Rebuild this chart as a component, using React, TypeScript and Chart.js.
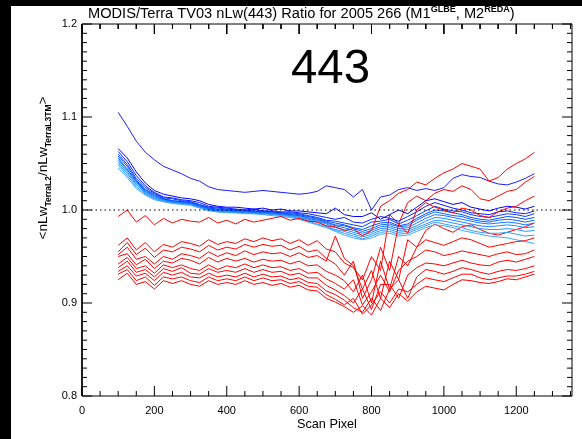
import React, { useEffect, useRef } from "react";
import { Chart, registerables } from "chart.js";

Chart.register(...registerables);

const SCAN_PIXELS = [100,125,150,175,200,225,250,275,300,325,350,375,400,425,450,475,500,525,550,575,600,625,650,675,700,725,750,775,800,825,850,875,900,925,950,975,1000,1025,1050,1075,1100,1125,1150,1175,1200,1225,1250];

const X_TICKS = [0, 200, 400, 600, 800, 1000, 1200];
const Y_TICKS = [0.8, 0.9, 1.0, 1.1, 1.2];
const X_RANGE = [0, 1354];
const Y_RANGE = [0.8, 1.2];
const REF_LEVEL = 1.0;

const BLUE_TOP = [1.105,1.090,1.074,1.062,1.054,1.047,1.043,1.039,1.034,1.031, 1.025,1.022,1.021,1.020,1.019,1.020,1.021,1.020,1.019,1.018, 1.017,1.018,1.020,1.026,1.024,1.022,1.014,1.022,1.000,1.014, 1.016,1.022,1.024,1.021,1.023,1.021,1.024,1.034,1.038,1.036, 1.035,1.031,1.028,1.027,1.030,1.034,1.039];
const BLUE_1 = [1.066,1.056,1.041,1.029,1.021,1.017,1.015,1.013,1.012,1.010, 1.006,1.004,1.003,1.003,1.002,1.001,1.002,1.000,1.001,0.999, 0.999,0.998,0.997,0.996,1.002,0.995,0.993,0.993,0.997,0.990, 0.995,1.000,0.996,1.003,1.010,1.012,1.009,1.006,1.008,1.003, 1.001,0.999,1.002,1.004,1.003,1.001,1.004];
const BLUE_2 = [1.063,1.052,1.037,1.026,1.019,1.014,1.013,1.011,1.010,1.008, 1.004,1.003,1.002,1.001,1.000,1.001,0.999,0.999,0.998,0.998, 0.997,0.996,0.994,0.992,0.990,0.992,0.987,0.986,0.990,0.993, 0.991,0.988,0.993,0.998,1.004,1.008,1.005,1.002,1.000,0.997, 0.996,0.995,0.998,0.999,0.997,0.996,0.999];
const BLUE_3 = [1.060,1.049,1.034,1.024,1.018,1.013,1.012,1.010,1.009,1.006, 1.003,1.002,1.001,1.000,1.000,0.999,0.999,0.998,0.997,0.997, 0.996,0.994,0.992,0.989,0.988,0.986,0.984,0.982,0.987,0.988, 0.990,0.985,0.989,0.994,0.999,1.004,1.001,0.999,0.998,0.995, 0.993,0.992,0.994,0.996,0.995,0.993,0.996];
const BLUE_4 = [1.058,1.047,1.032,1.022,1.017,1.012,1.010,1.009,1.008,1.005, 1.002,1.001,1.000,1.000,0.999,0.999,0.998,0.998,0.997,0.996, 0.995,0.993,0.991,0.988,0.986,0.984,0.981,0.979,0.983,0.986, 0.987,0.983,0.985,0.991,0.996,1.000,0.999,0.997,0.995,0.992, 0.990,0.989,0.991,0.993,0.992,0.990,0.992];
const BLUE_5 = [1.056,1.044,1.031,1.021,1.016,1.012,1.010,1.009,1.008,1.005, 1.002,1.000,1.000,0.999,0.999,0.998,0.998,0.997,0.996,0.995, 0.994,0.992,0.990,0.987,0.984,0.983,0.980,0.977,0.980,0.984, 0.985,0.982,0.983,0.989,0.994,0.998,0.996,0.994,0.993,0.990, 0.988,0.987,0.989,0.990,0.989,0.987,0.989];
const BLUE_6 = [1.054,1.043,1.030,1.020,1.015,1.011,1.009,1.008,1.007,1.004, 1.001,1.000,0.999,0.999,0.998,0.998,0.997,0.997,0.996,0.995, 0.994,0.991,0.989,0.986,0.983,0.981,0.978,0.975,0.978,0.982, 0.983,0.980,0.981,0.986,0.991,0.995,0.994,0.992,0.990,0.988, 0.986,0.985,0.986,0.987,0.986,0.984,0.986];
const BLUE_7 = [1.052,1.041,1.028,1.019,1.014,1.011,1.009,1.008,1.007,1.004, 1.001,0.999,0.999,0.998,0.998,0.997,0.997,0.996,0.995,0.994, 0.993,0.990,0.988,0.985,0.981,0.979,0.976,0.973,0.976,0.980, 0.981,0.978,0.979,0.983,0.988,0.992,0.991,0.989,0.987,0.985, 0.983,0.982,0.983,0.984,0.983,0.981,0.982];
const BLUE_8 = [1.050,1.039,1.027,1.018,1.013,1.010,1.008,1.007,1.006,1.003, 1.000,0.999,0.998,0.998,0.997,0.997,0.996,0.996,0.995,0.994, 0.992,0.989,0.987,0.983,0.979,0.977,0.974,0.971,0.974,0.978, 0.979,0.976,0.977,0.981,0.985,0.989,0.988,0.986,0.984,0.982, 0.980,0.979,0.979,0.980,0.979,0.977,0.978];
const BLUE_9 = [1.048,1.037,1.025,1.017,1.012,1.009,1.008,1.007,1.006,1.003, 1.000,0.998,0.998,0.997,0.997,0.996,0.996,0.995,0.994,0.993, 0.991,0.988,0.985,0.982,0.978,0.975,0.972,0.969,0.972,0.976, 0.977,0.974,0.975,0.979,0.983,0.987,0.985,0.983,0.981,0.978, 0.976,0.975,0.975,0.976,0.974,0.972,0.973];
const BLUE_10 = [1.045,1.035,1.023,1.016,1.011,1.009,1.007,1.006,1.005,1.002, 0.999,0.998,0.997,0.997,0.996,0.996,0.995,0.994,0.993,0.992, 0.990,0.987,0.984,0.981,0.977,0.973,0.970,0.968,0.970,0.974, 0.975,0.972,0.973,0.977,0.981,0.984,0.983,0.981,0.978,0.976, 0.974,0.972,0.971,0.970,0.968,0.966,0.964];

const RED_0 = [0.993,1.000,0.987,0.994,0.984,0.991,0.986,0.990,0.988,0.987, 0.992,0.986,0.989,0.985,0.990,0.987,0.989,0.991,0.993,0.989, 0.991,0.988,0.987,0.983,0.982,0.978,0.980,0.972,0.978,1.004, 1.010,1.018,1.022,1.030,1.027,1.034,1.040,1.044,1.050,1.047, 1.044,1.031,1.035,1.044,1.050,1.055,1.062];
const RED_1 = [0.962,0.970,0.957,0.965,0.955,0.963,0.960,0.966,0.964,0.961, 0.968,0.963,0.966,0.964,0.969,0.966,0.970,0.967,0.969,0.964, 0.968,0.962,0.967,0.958,0.955,0.943,0.938,0.925,0.950,0.935, 0.995,0.985,1.008,1.015,1.010,1.018,1.022,1.020,1.026,1.022, 1.012,1.010,1.015,1.020,1.022,1.030,1.036];
const RED_2 = [0.955,0.965,0.952,0.959,0.949,0.957,0.955,0.960,0.958,0.955, 0.962,0.957,0.960,0.958,0.963,0.960,0.963,0.961,0.962,0.957, 0.961,0.955,0.957,0.948,0.942,0.930,0.945,0.905,0.925,0.960, 0.935,0.985,0.975,1.000,1.008,1.003,1.000,0.997,1.002,1.000, 0.994,0.992,0.998,1.002,1.004,1.010,1.015];
const RED_3 = [0.952,0.960,0.947,0.950,0.942,0.950,0.947,0.953,0.951,0.948, 0.955,0.950,0.954,0.951,0.956,0.952,0.955,0.953,0.954,0.950, 0.954,0.949,0.951,0.945,0.972,0.948,0.940,0.915,0.935,0.905, 0.945,0.925,0.968,0.960,0.978,0.985,0.980,0.976,0.982,0.984, 0.979,0.975,0.973,0.976,0.979,0.982,0.986];
const RED_4 = [0.950,0.953,0.941,0.947,0.937,0.945,0.943,0.948,0.946,0.942, 0.949,0.944,0.948,0.945,0.948,0.944,0.947,0.945,0.946,0.942, 0.945,0.940,0.941,0.934,0.930,0.924,0.912,0.930,0.900,0.945, 0.915,0.950,0.940,0.960,0.968,0.965,0.962,0.966,0.970,0.968, 0.964,0.960,0.962,0.964,0.966,0.967,0.970];
const RED_5 = [0.942,0.949,0.937,0.940,0.932,0.941,0.938,0.941,0.937,0.935, 0.941,0.936,0.940,0.938,0.942,0.938,0.941,0.938,0.939,0.935, 0.937,0.932,0.933,0.926,0.921,0.915,0.925,0.898,0.912,0.930, 0.912,0.935,0.945,0.950,0.957,0.955,0.951,0.953,0.956,0.954, 0.952,0.950,0.953,0.955,0.952,0.953,0.957];
const RED_6 = [0.938,0.945,0.933,0.936,0.928,0.937,0.934,0.938,0.932,0.931, 0.937,0.933,0.935,0.933,0.937,0.933,0.936,0.933,0.934,0.930, 0.932,0.927,0.927,0.919,0.914,0.908,0.900,0.915,0.893,0.920, 0.920,0.905,0.930,0.938,0.943,0.942,0.940,0.943,0.946,0.943, 0.941,0.940,0.944,0.946,0.944,0.947,0.950];
const RED_7 = [0.934,0.940,0.929,0.932,0.924,0.933,0.930,0.933,0.928,0.927, 0.932,0.928,0.930,0.928,0.932,0.928,0.931,0.928,0.929,0.925, 0.927,0.922,0.921,0.913,0.909,0.903,0.895,0.890,0.905,0.892, 0.915,0.925,0.905,0.928,0.936,0.934,0.931,0.934,0.938,0.936, 0.933,0.931,0.934,0.936,0.935,0.937,0.940];
const RED_8 = [0.931,0.936,0.924,0.928,0.919,0.928,0.926,0.928,0.924,0.922, 0.928,0.924,0.926,0.924,0.928,0.924,0.927,0.924,0.925,0.921, 0.923,0.918,0.917,0.909,0.904,0.898,0.905,0.888,0.898,0.912, 0.900,0.915,0.912,0.920,0.927,0.925,0.923,0.927,0.931,0.931, 0.927,0.925,0.927,0.929,0.929,0.931,0.934];
const RED_9 = [0.925,0.932,0.920,0.923,0.915,0.924,0.921,0.924,0.920,0.918, 0.924,0.920,0.922,0.920,0.924,0.920,0.922,0.919,0.921,0.917, 0.919,0.914,0.913,0.905,0.901,0.896,0.890,0.897,0.887,0.905, 0.895,0.910,0.902,0.912,0.918,0.916,0.914,0.920,0.925,0.924, 0.922,0.921,0.923,0.926,0.925,0.928,0.931];

const BLUE_SERIES = [BLUE_TOP, BLUE_1, BLUE_2, BLUE_3, BLUE_4, BLUE_5, BLUE_6, BLUE_7, BLUE_8, BLUE_9, BLUE_10];
const BLUE_COLORS = ["#1c1cff", "#0000ff", "#0a1eff", "#0a3cff", "#0050ff", "#0a64ff", "#1478ff", "#1e88ff", "#2894ff", "#349eff", "#40a8ff"];
const RED_SERIES = [RED_0, RED_1, RED_2, RED_3, RED_4, RED_5, RED_6, RED_7, RED_8, RED_9];
const RED_COLOR = "#ff0000";

const FONT = "'Liberation Sans', Arial, sans-serif";

// plot box size in pixels (from the layout below), used to turn tick lengths into data units
const PLOT_PX = { w: 490, h: 372 };
const TICK_MAJOR_PX = 10;
const TICK_MINOR_PX = 5;

type Part = { t: string; k?: "sup" | "sub" };

const TITLE_PARTS: Part[] = [
  { t: "MODIS/Terra TV03 nLw(443) Ratio for 2005 266 (M1" },
  { t: "GLBE", k: "sup" },
  { t: ", M2" },
  { t: "REDA", k: "sup" },
  { t: ")" },
];
const YLABEL_PARTS: Part[] = [
  { t: "<nLw" },
  { t: "TerraL2", k: "sub" },
  { t: "/nLw" },
  { t: "TerraL3TM", k: "sub" },
  { t: ">" },
];
const XLABEL_PARTS: Part[] = [{ t: "Scan Pixel" }];
const BIG_LABEL: Part[] = [{ t: "443" }];

function partFont(size: number, k?: string) {
  const s = k ? size * 0.62 : size;
  return `${k ? "bold " : ""}${s}px ${FONT}`;
}

function richWidth(ctx: CanvasRenderingContext2D, parts: Part[], size: number) {
  let w = 0;
  for (const p of parts) {
    ctx.font = partFont(size, p.k);
    w += ctx.measureText(p.t).width;
  }
  return w;
}

function drawRichFit(ctx: CanvasRenderingContext2D, parts: Part[], cx: number, baseline: number, targetW: number) {
  const base = 20;
  const size = (base * targetW) / richWidth(ctx, parts, base);
  let x = cx - targetW / 2;
  ctx.textAlign = "left";
  ctx.textBaseline = "alphabetic";
  for (const p of parts) {
    ctx.font = partFont(size, p.k);
    let y = baseline;
    if (p.k === "sup") y -= size * 0.42;
    if (p.k === "sub") y += size * 0.28;
    ctx.fillText(p.t, x, y);
    x += ctx.measureText(p.t).width;
  }
}

function drawTexts(ctx: CanvasRenderingContext2D) {
  ctx.clearRect(0, 0, ctx.canvas.width, ctx.canvas.height);
  ctx.save();
  ctx.fillStyle = "#000";
  drawRichFit(ctx, TITLE_PARTS, 290.5, 12, 427);
  drawRichFit(ctx, XLABEL_PARTS, 316, 422, 60);
  drawRichFit(ctx, BIG_LABEL, 319.5, 77, 79);
  ctx.save();
  ctx.translate(36, 162);
  ctx.rotate(-Math.PI / 2);
  drawRichFit(ctx, YLABEL_PARTS, 0, 0, 143);
  ctx.restore();
  ctx.restore();
}

function frameSegments() {
  return [
    { x: X_RANGE[0], y: Y_RANGE[0] },
    { x: X_RANGE[1], y: Y_RANGE[0] },
    { x: X_RANGE[1], y: Y_RANGE[1] },
    { x: X_RANGE[0], y: Y_RANGE[1] },
    { x: X_RANGE[0], y: Y_RANGE[0] },
  ];
}

function tickSegments() {
  const pts: any[] = [];
  const ux = (X_RANGE[1] - X_RANGE[0]) / PLOT_PX.w;
  const uy = (Y_RANGE[1] - Y_RANGE[0]) / PLOT_PX.h;
  for (let i = 0; i <= 40; i++) {
    const v = Y_RANGE[0] + i * 0.01;
    const len = i % 10 === 0 ? TICK_MAJOR_PX : TICK_MINOR_PX;
    pts.push({ x: X_RANGE[0], y: v }, { x: X_RANGE[0] + len * ux, y: v }, { x: X_RANGE[0] + len * ux, y: null });
    pts.push({ x: X_RANGE[1], y: v }, { x: X_RANGE[1] - len * ux, y: v }, { x: X_RANGE[1] - len * ux, y: null });
  }
  for (let v = 0; v <= 1350; v += 50) {
    const len = v % 200 === 0 ? TICK_MAJOR_PX : TICK_MINOR_PX;
    pts.push({ x: v, y: Y_RANGE[0] }, { x: v, y: Y_RANGE[0] + len * uy }, { x: v, y: null });
    pts.push({ x: v, y: Y_RANGE[1] }, { x: v, y: Y_RANGE[1] - len * uy }, { x: v, y: null });
  }
  return pts;
}

export default function App() {
  const ref = useRef<HTMLCanvasElement>(null);
  const overlayRef = useRef<HTMLCanvasElement>(null);
  useEffect(() => {
    if (!ref.current) return;
    const toPts = (arr: number[]) => arr.map((v, i) => ({ x: SCAN_PIXELS[i], y: v }));
    const datasets: any[] = [];
    datasets.push({
      data: frameSegments(),
      borderColor: "#000",
      borderWidth: 1,
      pointRadius: 0,
      tension: 0,
      clip: false,
      spanGaps: false,
      order: -2,
    });
    datasets.push({
      data: tickSegments(),
      borderColor: "#000",
      borderWidth: 1,
      pointRadius: 0,
      tension: 0,
      clip: false,
      spanGaps: false,
      order: -1,
    });
    datasets.push({
      data: [
        { x: X_RANGE[0], y: REF_LEVEL },
        { x: X_RANGE[1], y: REF_LEVEL },
      ],
      borderColor: "#000",
      borderWidth: 1.2,
      borderDash: [1.5, 3],
      pointRadius: 0,
      order: 0,
    });
    RED_SERIES.forEach((s, i) =>
      datasets.push({ data: toPts(s), borderColor: RED_COLOR, borderWidth: 1, pointRadius: 0, tension: 0, order: 1 + (i % 2) * 2 })
    );
    BLUE_SERIES.forEach((s, i) =>
      datasets.push({ data: toPts(s), borderColor: BLUE_COLORS[i], borderWidth: 1, pointRadius: 0, tension: 0, order: 2 })
    );
    const chart = new Chart(ref.current, {
      type: "line",
      data: { datasets },
      options: {
        animation: false,
        responsive: false,
        devicePixelRatio: 1,
        layout: { padding: { left: 0, right: 10, top: 18, bottom: 0 } },
        plugins: { legend: { display: false }, tooltip: { enabled: false }, title: { display: false } },
        scales: {
          x: {
            type: "linear",
            min: X_RANGE[0],
            max: X_RANGE[1],
            grid: { display: false, drawTicks: false },
            border: { display: false },
            afterBuildTicks: (s: any) => {
              s.ticks = X_TICKS.map((v) => ({ value: v }));
            },
            afterFit: (s: any) => {
              s.height = 43;
            },
            ticks: {
              padding: 8,
              color: "#000",
              maxRotation: 0,
              autoSkip: false,
              font: { family: FONT, size: 11 },
              callback: (v: any) => String(v),
            },
          },
          y: {
            type: "linear",
            min: Y_RANGE[0],
            max: Y_RANGE[1],
            grid: { display: false, drawTicks: false },
            border: { display: false },
            afterBuildTicks: (s: any) => {
              s.ticks = Y_TICKS.map((v) => ({ value: v }));
            },
            afterFit: (s: any) => {
              s.width = 71;
            },
            ticks: {
              padding: 5,
              color: "#000",
              autoSkip: false,
              font: { family: FONT, size: 11 },
              callback: (v: any) => Number(v).toFixed(1),
            },
          },
        },
      } as any,
    });
    const ov = overlayRef.current ? overlayRef.current.getContext("2d") : null;
    if (ov) drawTexts(ov);
    return () => {
      chart.destroy();
      if (ov) ov.clearRect(0, 0, ov.canvas.width, ov.canvas.height);
    };
  }, []);
  return (
    <div style={{ position: "absolute", left: 0, top: 0, width: 582, height: 439, background: "#000" }}>
      <canvas
        ref={ref}
        width={571}
        height={433}
        style={{ position: "absolute", left: 11, top: 6, width: 571, height: 433, background: "#fff", display: "block" }}
      />
      <canvas
        ref={overlayRef}
        width={571}
        height={433}
        style={{ position: "absolute", left: 11, top: 6, width: 571, height: 433, pointerEvents: "none", display: "block" }}
      />
    </div>
  );
}
